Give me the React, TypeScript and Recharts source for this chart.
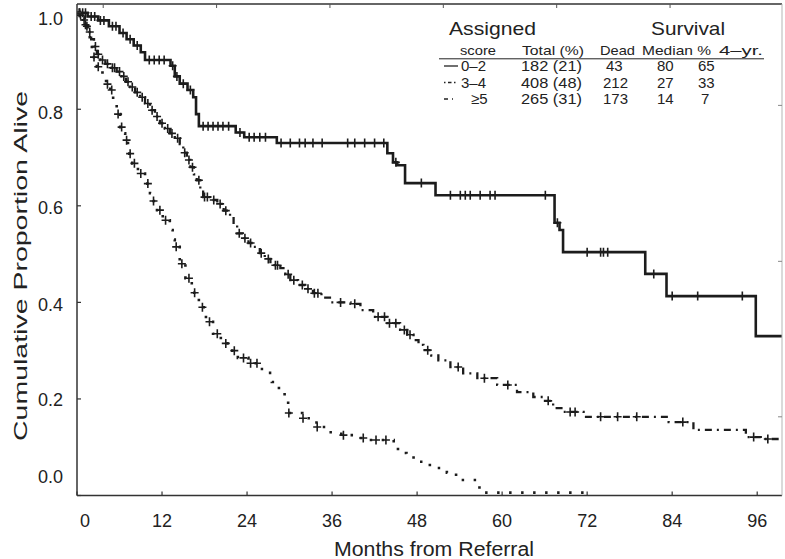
import React from 'react';
import { ComposedChart, Line, XAxis, YAxis } from 'recharts';

const FONT = '"Liberation Sans", Arial, Helvetica, sans-serif';
const INK = '#1c1c1c';

const monthTicks = [0, 12, 24, 36, 48, 60, 72, 84, 96];
const propTicks = [0, 0.2, 0.4, 0.6, 0.8, 1.0];
const topTicks = [3.7, 19.7, 35.7, 51.7, 67.7, 83.7];
const rightTicks = [0.163, 0.485, 0.808];

// score 0-2 (solid)
const lowMonths = [
  0, 1.5, 3, 4.5, 6, 7, 8, 9, 9.6, 13.2,
  13.8, 14.5, 15.6, 16.4, 16.8, 17.2, 22.4, 23.6, 28.2, 43.8,
  44.6, 45.2, 46.3, 50.6, 67.4, 68.1, 68.6, 80.2, 83.2, 95.8, 99.5,
];
const lowSurv = [
  1.0, 0.992, 0.984, 0.972, 0.958, 0.945, 0.932, 0.918, 0.902, 0.89,
  0.868, 0.853, 0.84, 0.825, 0.79, 0.765, 0.752, 0.742, 0.73, 0.709,
  0.69, 0.684, 0.647, 0.622, 0.565, 0.55, 0.504, 0.459, 0.413, 0.33, 0.33,
];
const lowCensor = [
  0.4, 0.8, 1.2, 2, 2.5, 3.3, 3.8, 5, 5.5, 6.5, 7.5, 8.5, 10.2, 10.9, 11.6, 12.3,
  13.5, 14.1, 15, 16, 17.8, 18.5, 19.2, 19.9, 20.6, 21.4, 23, 24.3, 25, 25.8, 26.6,
  28.8, 30.1, 31.4, 32.2, 33.3, 34.6, 38.2, 39.2, 40.6, 42, 43.3, 45, 48.6, 52.7,
  54.1, 54.8, 55.5, 56.9, 58.3, 59, 66.1, 67.8, 72, 73.9, 74.3, 74.9, 81.4, 84,
  87.6, 93.9,
];

// score 3-4 (dash-dot)
const midMonths = [
  0, 0.4, 0.8, 1.2, 1.6, 2.0, 2.4, 2.8, 3.3, 4.0,
  4.8, 5.6, 6.3, 6.9, 7.5, 8.2, 8.9, 9.6, 10.3, 11.0,
  11.7, 12.4, 13.1, 13.8, 14.5, 15.0, 15.5, 16.0, 16.5, 16.9,
  17.4, 17.8, 18.8, 19.8, 20.7, 21.6, 22.1, 22.6, 23.4, 24.2,
  24.9, 25.8, 26.5, 27.3, 28.7, 29.4, 30.1, 31.2, 32.2, 33.3,
  34.5, 35.7, 38.6, 40.0, 41.8, 43.8, 45.6, 46.6, 47.5, 48.2,
  48.9, 50.0, 51.0, 52.7, 54.5, 56.5, 59.3, 62.1, 64.4, 65.8,
  67.2, 68.6, 71.5, 83.5, 87.0, 94.4, 96.5, 99.5,
];
const midSurv = [
  1.0, 0.995, 0.985, 0.972, 0.96, 0.945, 0.93, 0.914, 0.902, 0.894,
  0.886, 0.878, 0.868, 0.857, 0.846, 0.835, 0.825, 0.812, 0.798, 0.785,
  0.771, 0.76, 0.75, 0.74, 0.728, 0.71, 0.695, 0.68, 0.665, 0.653,
  0.635, 0.618, 0.612, 0.604, 0.59, 0.577, 0.56, 0.543, 0.533, 0.523,
  0.515, 0.502, 0.49, 0.477, 0.471, 0.458, 0.446, 0.436, 0.428, 0.419,
  0.41, 0.4, 0.397, 0.384, 0.37, 0.357, 0.343, 0.333, 0.322, 0.312,
  0.301, 0.29, 0.28, 0.266, 0.253, 0.243, 0.229, 0.214, 0.204, 0.196,
  0.181, 0.173, 0.163, 0.152, 0.136, 0.121, 0.117, 0.117,
];
const midCensor = [
  0.5, 1, 1.4, 1.8, 2.6, 3, 3.6, 4.3, 5, 5.3, 6, 6.6, 7.2, 7.8, 8.5, 9.2, 10, 10.6,
  11.3, 12, 12.8, 13.4, 14.2, 15.2, 15.8, 16.3, 17.2, 18, 18.4, 19.3, 20.2, 21,
  22.9, 23.7, 24.5, 26, 27, 28, 28.3, 29.8, 30.6, 31.8, 32.6, 33.5, 34, 37.2, 39.2,
  42.5, 43.4, 44.1, 45, 46.2, 47, 49.5, 53.8, 57.5, 60.8, 66.5, 69.6, 70.3, 73.9,
  76.3, 79, 85.5, 95.5, 97.5,
];

// score >=5 (dotted)
const highMonths = [
  0, 0.5, 1.1, 1.5, 1.8, 2.1, 2.4, 2.8, 3.2, 3.6,
  4.1, 4.7, 5.1, 5.6, 6.1, 6.5, 6.8, 7.2, 7.8, 8.6,
  9.6, 10.3, 10.8, 11.3, 12.1, 13.1, 13.5, 13.8, 14.5, 15.3,
  16.2, 17.2, 18.2, 19.2, 20.3, 21.5, 22.7, 24.2, 25.5, 26.5,
  27.5, 28.5, 29.3, 29.8, 31.8, 33.8, 35.5, 37.3, 39.0, 40.5,
  44.7, 45.3, 46.5, 47.5, 49.8, 52.2, 53.5, 56.8, 71.5,
];
const highSurv = [
  1.0, 0.99, 0.975, 0.96, 0.943, 0.925, 0.908, 0.888, 0.876, 0.864,
  0.852, 0.84, 0.815, 0.79, 0.763, 0.75, 0.736, 0.708, 0.688, 0.667,
  0.646, 0.626, 0.61, 0.591, 0.57, 0.55, 0.53, 0.515, 0.48, 0.45,
  0.42, 0.39, 0.36, 0.335, 0.315, 0.3, 0.285, 0.274, 0.262, 0.254,
  0.235, 0.218, 0.202, 0.171, 0.16, 0.142, 0.131, 0.125, 0.119, 0.115,
  0.108, 0.088, 0.084, 0.07, 0.057, 0.047, 0.032, 0.006, 0.006,
];
const highCensor = [
  0.3, 1.2, 2.4, 3, 4.3, 4.9, 5.8, 6.3, 7, 7.5, 8.1, 9, 10, 10.8, 11.7, 12.5, 14,
  14.8, 15.8, 16.6, 17.7, 18.7, 19.8, 21, 22.2, 23.5, 24.5, 25.4, 29.9, 31.9, 33.9,
  37.6, 40.4, 42.2, 43.6,
];

// legend table
const legendScores = ['0–2', '3–4', '≥5'];
const legendTotals = ['182 (21)', '408 (48)', '265 (31)'];
const legendDead = ['43', '212', '173'];
const legendMedian = ['80', '27', '14'];
const legend4yr = ['65', '33', '7'];

function buildRows(months: number[], surv: number[], censor: number[]) {
  const rows = months.map((m, i) => ({ m, s: surv[i], c: 0 }));
  censor.forEach((cm) => {
    let s = surv[0];
    months.forEach((m, i) => {
      if (m <= cm) s = surv[i];
    });
    rows.push({ m: cm, s, c: 1 });
  });
  return rows.sort((a, b) => a.m - b.m || a.c - b.c);
}

const lowRows = buildRows(lowMonths, lowSurv, lowCensor);
const midRows = buildRows(midMonths, midSurv, midCensor);
const highRows = buildRows(highMonths, highSurv, highCensor);

const CensorMark = (props: any) => {
  const { cx, cy, payload, key } = props;
  if (!payload || !payload.c || cx == null) return <g key={key} />;
  return (
    <path
      key={key}
      d={`M${cx - 4},${cy}h8M${cx},${cy - 4.5}v9`}
      stroke={INK}
      strokeWidth={1.6}
      fill="none"
      strokeDasharray="none"
    />
  );
};

const XTick = (props: any) => {
  const { x, y, payload } = props;
  const v = payload.value;
  return (
    <g>
      <line x1={x} y1={y} x2={x} y2={y - 4} stroke="#333" strokeWidth={1.2} />
      <text x={x + (v === 0 ? 8 : 0)} y={y + 31} textAnchor="middle" fontSize={18} fill="#222" fontFamily={FONT}>
        {v}
      </text>
    </g>
  );
};

const yShift: Record<string, number> = { '0.0': -19, '0.2': 1, '0.4': 2, '0.6': 2, '0.8': 3, '1.0': 6 };

const YTick = (props: any) => {
  const { x, y, payload } = props;
  const label = Number(payload.value).toFixed(1);
  return (
    <g>
      <line x1={x} y1={y} x2={x + 4} y2={y} stroke="#333" strokeWidth={1.2} />
      <text x={x - 14} y={y + 6.5 + (yShift[label] || 0)} textAnchor="end" fontSize={18} fill="#222" fontFamily={FONT}>
        {label}
      </text>
    </g>
  );
};

const TopTick = (props: any) => {
  const { x, y } = props;
  return <line x1={x} y1={y} x2={x} y2={y + 4} stroke="#555" strokeWidth={1} />;
};

const RightTick = (props: any) => {
  const { x, y } = props;
  return <line x1={x} y1={y} x2={x - 4} y2={y} stroke="#888" strokeWidth={1} />;
};

const rowBase = [71, 87.5, 104];

export default function App() {
  return (
    <div style={{ position: 'absolute', left: 0, top: 0, width: 785, height: 559, background: '#fff' }}>
      <ComposedChart width={785} height={559} margin={{ top: 3, right: 2, left: 76, bottom: 62.5 }}>
        <XAxis
          dataKey="m"
          type="number"
          domain={[0, 99.5]}
          allowDataOverflow
          ticks={monthTicks}
          interval={0}
          height={1}
          tickSize={0}
          tickMargin={0}
          tickLine={false}
          axisLine={{ stroke: '#333', strokeWidth: 1.5 }}
          tick={<XTick />}
        />
        <XAxis
          xAxisId="top"
          orientation="top"
          dataKey="m"
          type="number"
          domain={[0, 99.5]}
          allowDataOverflow
          ticks={topTicks}
          interval={0}
          height={1}
          tickSize={0}
          tickMargin={0}
          tickLine={false}
          axisLine={{ stroke: '#333', strokeWidth: 1.5 }}
          tick={<TopTick />}
        />
        <YAxis
          type="number"
          domain={[0, 1.018]}
          allowDataOverflow
          ticks={propTicks}
          interval={0}
          width={1}
          tickSize={0}
          tickMargin={0}
          tickLine={false}
          axisLine={{ stroke: '#333', strokeWidth: 1.5 }}
          tick={<YTick />}
        />
        <YAxis
          yAxisId="right"
          orientation="right"
          type="number"
          domain={[0, 1.018]}
          allowDataOverflow
          ticks={rightTicks}
          interval={0}
          width={1}
          tickSize={0}
          tickMargin={0}
          tickLine={false}
          axisLine={{ stroke: '#b5b5b5', strokeWidth: 1 }}
          tick={<RightTick />}
        />
        <Line
          data={highRows}
          dataKey="s"
          type="stepAfter"
          stroke={INK}
          strokeWidth={2.6}
          strokeDasharray="2.5 9.5"
          dot={CensorMark}
          activeDot={false}
          isAnimationActive={false}
        />
        <Line
          data={midRows}
          dataKey="s"
          type="stepAfter"
          stroke={INK}
          strokeWidth={2.3}
          strokeDasharray="7 5 2 5"
          dot={CensorMark}
          activeDot={false}
          isAnimationActive={false}
        />
        <Line
          data={lowRows}
          dataKey="s"
          type="stepAfter"
          stroke={INK}
          strokeWidth={2.6}
          dot={CensorMark}
          activeDot={false}
          isAnimationActive={false}
        />
      </ComposedChart>
      <svg
        width={785}
        height={559}
        style={{ position: 'absolute', left: 0, top: 0, pointerEvents: 'none' }}
        fontFamily={FONT}
        fill="#222"
      >
        <text x={434} y={556} textAnchor="middle" fontSize={19.5} textLength={200} lengthAdjust="spacingAndGlyphs">
          Months from Referral
        </text>
        <text
          transform="translate(27,266) rotate(-90)"
          textAnchor="middle"
          fontSize={19}
          textLength={350}
          lengthAdjust="spacingAndGlyphs"
        >
          Cumulative Proportion Alive
        </text>
        <text x={449} y={35} fontSize={19} textLength={87} lengthAdjust="spacingAndGlyphs">Assigned</text>
        <text x={651} y={35} fontSize={19} textLength={74} lengthAdjust="spacingAndGlyphs">Survival</text>
        <text x={460} y={54.5} fontSize={13} textLength={36} lengthAdjust="spacingAndGlyphs">score</text>
        <text x={522} y={54.5} fontSize={13} textLength={62} lengthAdjust="spacingAndGlyphs">Total (%)</text>
        <text x={600} y={54.5} fontSize={13} textLength={35} lengthAdjust="spacingAndGlyphs">Dead</text>
        <text x={642} y={54.5} fontSize={13} textLength={69} lengthAdjust="spacingAndGlyphs">Median %</text>
        <text x={719} y={54.5} fontSize={13} textLength={44} lengthAdjust="spacingAndGlyphs">4–yr.</text>
        <line x1={439} y1={58.8} x2={764} y2={58.8} stroke="#222" strokeWidth={1} />
        {legendScores.map((sc, i) => {
          const by = rowBase[i];
          const cy = by - 5;
          const dash = i === 0 ? undefined : i === 1 ? '1.5 2.5 3.5 2.5' : '4 4';
          const x2 = i === 2 ? 453 : 458;
          return (
            <g key={sc}>
              <line x1={444} y1={cy} x2={x2} y2={cy} stroke="#222" strokeWidth={1.3} strokeDasharray={dash} />
              <text x={i === 2 ? 471 : 461} y={by} fontSize={15}>{sc}</text>
              <text x={521} y={by} fontSize={15} textLength={61} lengthAdjust="spacingAndGlyphs">{legendTotals[i]}</text>
              <text x={legendDead[i].length > 2 ? 603 : 606} y={by} fontSize={15}>{legendDead[i]}</text>
              <text x={657} y={by} fontSize={15}>{legendMedian[i]}</text>
              <text x={legend4yr[i].length > 1 ? 698 : 701} y={by} fontSize={15}>{legend4yr[i]}</text>
            </g>
          );
        })}
      </svg>
    </div>
  );
}
